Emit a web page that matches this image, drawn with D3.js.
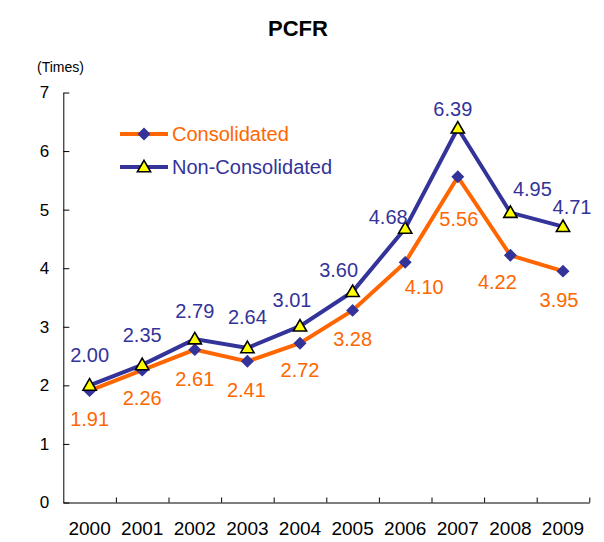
<!DOCTYPE html>
<html lang="en">
    <head>
        <meta charset="UTF-8" />
        <title>PCFR</title>
        <style>
            body {
                margin: 0;
                padding: 0;
                background-color: #ffffff;
                font-family: Arial, 'Liberation Sans', sans-serif;
            }
        </style>
    </head>
    <body>
        <div id="chart"></div>
        <script src="https://d3js.org/d3.v7.min.js"></script>
        <script>
            const years = ['2000', '2001', '2002', '2003', '2004', '2005', '2006', '2007', '2008', '2009'];
            const consolidated = [1.91, 2.26, 2.61, 2.41, 2.72, 3.28, 4.1, 5.56, 4.22, 3.95];
            const nonConsolidated = [2.0, 2.35, 2.79, 2.64, 3.01, 3.6, 4.68, 6.39, 4.95, 4.71];
            const yTicks = [0, 1, 2, 3, 4, 5, 6, 7];

            // where each value label sits relative to its point (dx, dy of the text centre)
            const consLabelPos = [[0, 28], [0, 28], [0, 29], [-1, 28], [0, 27], [0, 28], [19, 24], [1, 42], [-13, 26], [-4, 29]];
            const nonLabelPos = [[0, -31], [0, -30], [0, -28], [0, -31], [-8, -26], [-14, -22], [-17, -12], [-5, -19], [22, -24], [9, -20]];

            const orange = '#ff6600';
            const navy = '#333399';

            const width = 604;
            const height = 542;
            const plotLeft = 63.3;
            const plotRight = 589.3;
            const plotTop = 92.5;
            const plotBottom = 502.5;

            const svg = d3.select('#chart').append('svg').attr('width', width).attr('height', height);

            svg.append('text').attr('x', 298).attr('y', 36).attr('text-anchor', 'middle').style('font-size', '22px').style('font-weight', 'bold').text('PCFR');

            svg.append('text').attr('x', 37).attr('y', 72).style('font-size', '14px').text('(Times)');

            const x = d3.scaleBand().domain(years).range([plotLeft, plotRight]).padding(0);
            const y = d3.scaleLinear().domain([0, 7]).range([plotBottom, plotTop]);
            const edges = d3.scaleLinear().domain([0, years.length]).range([plotLeft, plotRight]);

            // y axis, ticks point inward
            const yAxis = svg
                .append('g')
                .attr('transform', `translate(${plotLeft},0)`)
                .call(d3.axisLeft(y).tickValues(yTicks).tickFormat(d3.format('d')).tickSizeInner(-6).tickSizeOuter(0).tickPadding(14));
            yAxis.selectAll('text').style('font-size', '17px').attr('fill', '#000').style('font-family', 'Arial, sans-serif');
            yAxis.selectAll('line, path').attr('stroke', '#000');

            // x axis boundary ticks
            const xTicks = svg
                .append('g')
                .attr('transform', `translate(0,${plotBottom})`)
                .call(d3.axisBottom(edges).tickValues(d3.range(1, years.length + 1)).tickSizeInner(-5).tickSizeOuter(0).tickFormat(''));
            xTicks.selectAll('line, path').attr('stroke', '#000');

            const xLabels = svg
                .append('g')
                .attr('transform', `translate(0,${plotBottom})`)
                .call(d3.axisBottom(x).tickSize(0).tickPadding(19));
            xLabels.select('.domain').remove();
            xLabels.selectAll('text').style('font-size', '19px').attr('fill', '#000').style('font-family', 'Arial, sans-serif');

            const line = d3
                .line()
                .x((d, i) => x(years[i]) + x.bandwidth() / 2)
                .y((d) => y(d));

            const diamond = d3.symbol().type(d3.symbolSquare).size(84);
            const triangle = d3.symbol().type(d3.symbolTriangle).size(76);

            function drawSeries(values, color, marker) {
                svg.append('path').datum(values).attr('fill', 'none').attr('stroke', color).attr('stroke-width', 4).attr('stroke-linejoin', 'miter').attr('d', line);
                const g = svg.append('g');
                values.forEach((v, i) => {
                    const cx = x(years[i]) + x.bandwidth() / 2;
                    const cy = y(v);
                    if (marker === 'diamond') {
                        g.append('path').attr('d', diamond).attr('transform', `translate(${cx},${cy}) rotate(45)`).attr('fill', navy);
                    } else {
                        g.append('path').attr('d', triangle).attr('transform', `translate(${cx},${cy + 1})`).attr('fill', '#ffff00').attr('stroke', '#000').attr('stroke-width', 1.6);
                    }
                });
            }

            drawSeries(consolidated, orange, 'diamond');
            drawSeries(nonConsolidated, navy, 'triangle');

            function drawLabels(values, pos, color) {
                svg.append('g')
                    .selectAll('text')
                    .data(values)
                    .join('text')
                    .attr('x', (d, i) => x(years[i]) + x.bandwidth() / 2 + pos[i][0])
                    .attr('y', (d, i) => y(d) + pos[i][1])
                    .attr('dy', '0.36em')
                    .attr('text-anchor', 'middle')
                    .attr('fill', color)
                    .style('font-size', '20px')
                    .text((d) => d3.format('.2f')(d));
            }

            drawLabels(consolidated, consLabelPos, orange);
            drawLabels(nonConsolidated, nonLabelPos, navy);

            // legend
            const legend = [
                { name: 'Consolidated', color: orange, marker: 'diamond', y: 134 },
                { name: 'Non-Consolidated', color: navy, marker: 'triangle', y: 167 },
            ];
            legend.forEach((item) => {
                svg.append('line').attr('x1', 120).attr('x2', 168).attr('y1', item.y).attr('y2', item.y).attr('stroke', item.color).attr('stroke-width', 4);
                if (item.marker === 'diamond') {
                    svg.append('path').attr('d', diamond).attr('transform', `translate(144,${item.y}) rotate(45)`).attr('fill', navy);
                } else {
                    svg.append('path').attr('d', triangle).attr('transform', `translate(144,${item.y + 1})`).attr('fill', '#ffff00').attr('stroke', '#000').attr('stroke-width', 1.6);
                }
                svg.append('text').attr('x', 172).attr('y', item.y).attr('dy', '0.36em').attr('fill', item.color).style('font-size', '20px').text(item.name);
            });
        </script>
    </body>
</html>
